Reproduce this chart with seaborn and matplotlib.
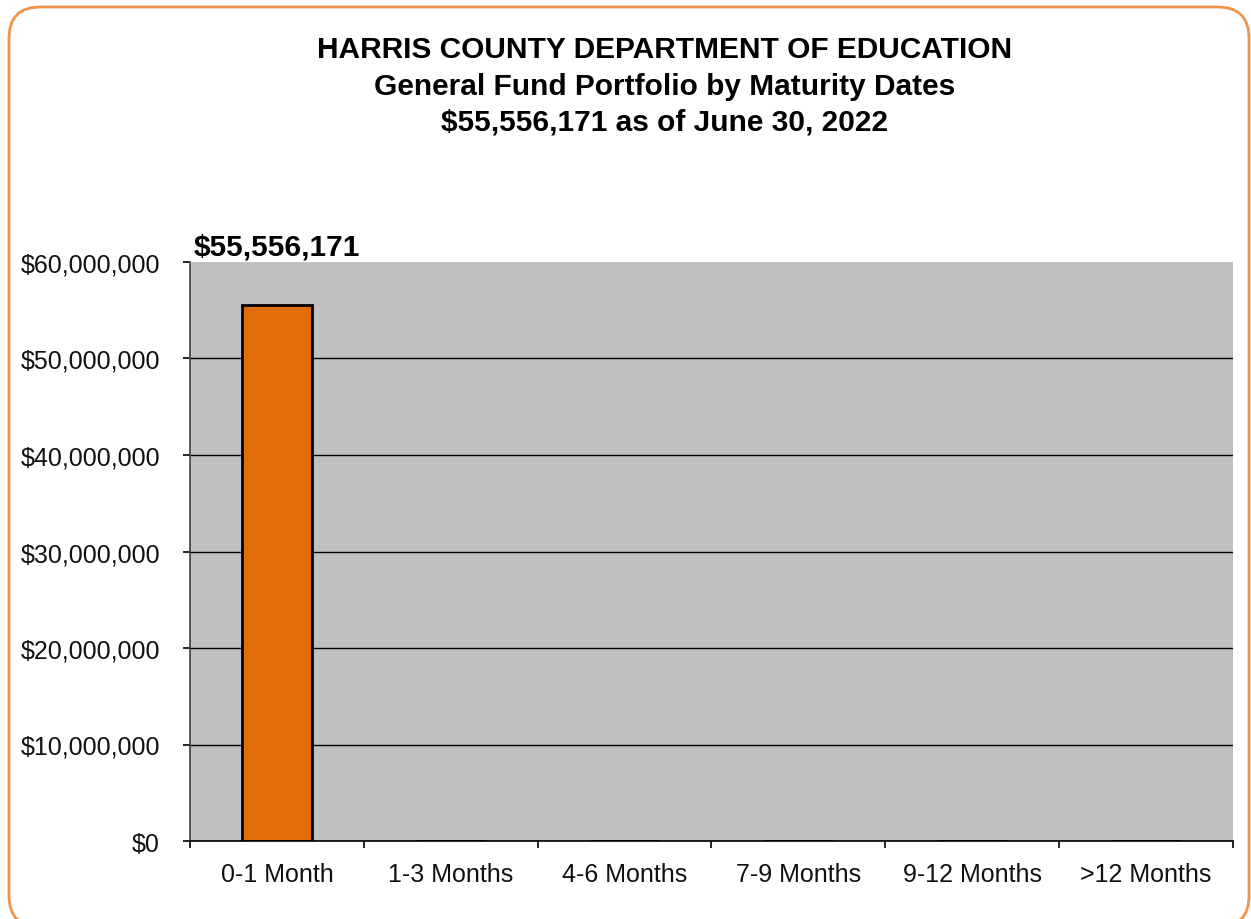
import matplotlib
matplotlib.use("Agg")
import matplotlib.pyplot as plt
import seaborn as sns
import pandas as pd
from matplotlib.patches import FancyBboxPatch
from matplotlib.ticker import FuncFormatter, MultipleLocator, FixedLocator

categories = ["0-1 Month", "1-3 Months", "4-6 Months", "7-9 Months", "9-12 Months", ">12 Months"]
values = [55556171, 0, 0, 0, 0, 0]
title_lines = ["HARRIS COUNTY DEPARTMENT OF EDUCATION",
               "General Fund Portfolio by Maturity Dates",
               "$55,556,171 as of June 30, 2022"]
bar_label = "$55,556,171"

sns.set_theme(style="white")
plt.rcParams['font.family'] = ['Liberation Sans', 'DejaVu Sans']
plt.rcParams['text.color'] = 'black'

df = pd.DataFrame({"cat": categories, "val": values})

fig = plt.figure(figsize=(12.51, 9.2), dpi=100)
ax = fig.add_axes([190/1251, 1-842/920, (1233-190)/1251, (842-263)/920])

sns.barplot(data=df, x="cat", y="val", ax=ax, color="#E36C0A", width=0.4,
            edgecolor="black", linewidth=2, saturation=1)

ax.set_facecolor("#C0C0C0")
ax.set_ylim(0, 60000000)
ax.set_xlim(-0.5, len(categories) - 0.5)
ax.yaxis.set_major_locator(MultipleLocator(10000000))
ax.yaxis.set_major_formatter(FuncFormatter(lambda v, p: f"${v:,.0f}"))
ax.grid(axis="y", color="black", linewidth=1)
ax.set_axisbelow(True)
for gl, t in zip(ax.yaxis.get_gridlines(), ax.get_yticks()):
    if t >= 60000000:
        gl.set_visible(False)

ax.set_xlabel("")
ax.set_ylabel("")
for s in ["top", "right"]:
    ax.spines[s].set_visible(False)
ax.spines["left"].set_color("#404040")
ax.spines["bottom"].set_color("black")
ax.spines["left"].set_linewidth(1.2)
ax.spines["bottom"].set_linewidth(1.2)

ax.xaxis.set_minor_locator(FixedLocator([i - 0.5 for i in range(len(categories) + 1)]))
ax.tick_params(axis="x", which="major", length=0, pad=15, labelsize=18, labelcolor="#111111")
ax.tick_params(axis="x", which="minor", length=5, width=1.2, color="black", direction="out", bottom=True)
ax.tick_params(axis="y", which="major", length=5, width=1.2, color="black", direction="out",
               left=True, labelsize=18, labelcolor="#111111", pad=16.5)

ax.annotate(bar_label, xy=(0, 60000000), xytext=(0, 11), textcoords="offset points",
            ha="center", va="center", fontsize=21.5, fontweight="bold", color="black",
            annotation_clip=False)

for i, yy in enumerate([50, 87, 123]):
    fig.text(665/1251, 1-yy/920, title_lines[i], ha="center", va="center",
             fontsize=21.5, fontweight="bold", color="black")

border = FancyBboxPatch((9/1251, -8/920), (1249-9)/1251, (912+8)/920,
                        boxstyle="round,pad=0,rounding_size=0.025",
                        transform=fig.transFigure, facecolor="none",
                        edgecolor="#F0944A", linewidth=2, mutation_aspect=1251/920)
fig.patches.append(border)

fig.savefig("out.png", dpi=100)
